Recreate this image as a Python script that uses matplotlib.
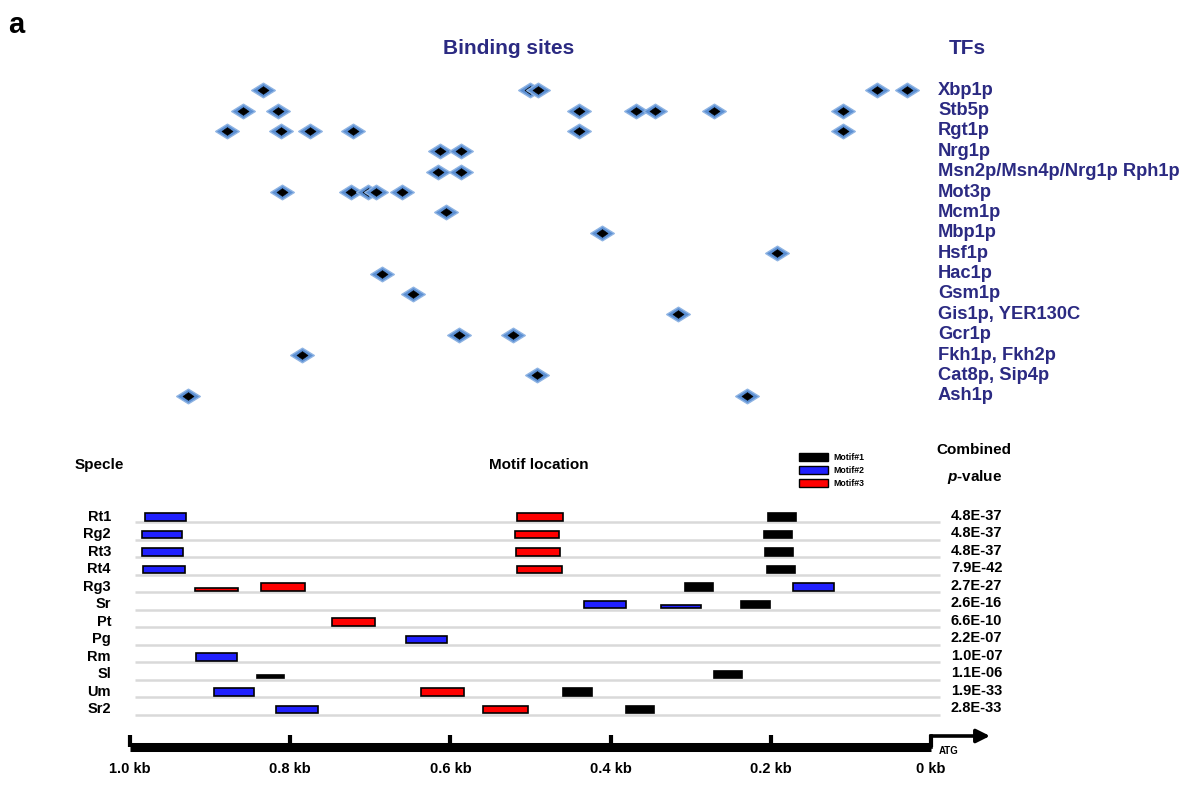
import matplotlib
matplotlib.use("Agg")
import matplotlib.pyplot as plt
from matplotlib.path import Path
from matplotlib.patches import Patch
from matplotlib.transforms import blended_transform_factory

plt.rcParams['font.family'] = ['Liberation Sans', 'DejaVu Sans']
plt.rcParams['mathtext.fontset'] = 'custom'
plt.rcParams['mathtext.it'] = 'Liberation Sans:bold:italic'
plt.rcParams['mathtext.rm'] = 'Liberation Sans:bold'

# ---------------- data ----------------
tf_names = ['Xbp1p', 'Stb5p', 'Rgt1p', 'Nrg1p', 'Msn2p/Msn4p/Nrg1p Rph1p', 'Mot3p',
            'Mcm1p', 'Mbp1p', 'Hsf1p', 'Hac1p', 'Gsm1p', 'Gis1p, YER130C', 'Gcr1p',
            'Fkh1p, Fkh2p', 'Cat8p, Sip4p', 'Ash1p']
# binding-site positions (kb upstream of ATG), one list per TF
binding_sites_kb = [
    [0.834, 0.501, 0.491, 0.067, 0.030],
    [0.859, 0.815, 0.439, 0.368, 0.345, 0.271, 0.110],
    [0.879, 0.811, 0.775, 0.722, 0.439, 0.110],
    [0.613, 0.587],
    [0.615, 0.587],
    [0.810, 0.724, 0.703, 0.693, 0.660],
    [0.605],
    [0.411],
    [0.192],
    [0.685],
    [0.647],
    [0.316],
    [0.589, 0.522],
    [0.785],
    [0.492],
    [0.928, 0.230],
]

species = ['Rt1', 'Rg2', 'Rt3', 'Rt4', 'Rg3', 'Sr', 'Pt', 'Pg', 'Rm', 'Sl', 'Um', 'Sr2']
p_values = ['4.8E-37', '4.8E-37', '4.8E-37', '7.9E-42', '2.7E-27', '2.6E-16',
            '6.6E-10', '2.2E-07', '1.0E-07', '1.1E-06', '1.9E-33', '2.8E-33']

motif_labels = ['Motif#1', 'Motif#2', 'Motif#3']
motif_species = [0, 0, 0, 1, 1, 1, 2, 2, 2, 3, 3, 3,
                 4, 4, 4, 4, 5, 5, 5, 6, 7, 8, 9, 9, 10, 10, 10, 11, 11, 11]
motif_id = [2, 3, 1, 2, 3, 1, 2, 3, 1, 2, 3, 1,
            3, 3, 1, 2, 2, 2, 1, 3, 2, 2, 1, 1, 2, 3, 1, 2, 3, 1]
motif_start_kb = [0.981, 0.517, 0.204, 0.985, 0.519, 0.208, 0.985, 0.518, 0.207, 0.984, 0.517, 0.205,
                  0.919, 0.836, 0.307, 0.172, 0.433, 0.337, 0.237, 0.748, 0.655, 0.918, 0.841, 0.271,
                  0.895, 0.637, 0.459, 0.818, 0.559, 0.381]
motif_end_kb = [0.930, 0.459, 0.169, 0.935, 0.464, 0.174, 0.934, 0.463, 0.172, 0.931, 0.461, 0.170,
                0.865, 0.782, 0.272, 0.121, 0.381, 0.287, 0.201, 0.694, 0.604, 0.866, 0.808, 0.236,
                0.845, 0.583, 0.423, 0.765, 0.503, 0.346]
motif_weak = [0, 0, 0, 0, 0, 0, 0, 0, 0, 0, 0, 0,
              1, 0, 0, 0, 0, 1, 0, 0, 0, 0, 1, 0, 0, 0, 0, 0, 0, 0]

kb_ticks = [1.0, 0.8, 0.6, 0.4, 0.2, 0.0]
kb_tick_labels = ['1.0 kb', '0.8 kb', '0.6 kb', '0.4 kb', '0.2 kb', '0 kb']

# ---------------- styling ----------------
W, H = 1192, 785
NAVY = '#2b2a82'
DIAMOND = '#5b8fd3'
MOTIF_COLORS = {1: '#000000', 2: '#2020ff', 3: '#ff0000'}


def fx(px):
    return px / W


def fy(py):
    return 1 - py / H


fig = plt.figure(figsize=(W / 100, H / 100), dpi=100)

X0, X1 = 130, 931  # pixel positions of 1.0 kb and 0 kb

# ---------- top panel: binding sites ----------
top_y0, top_y1 = 80, 406
axt = fig.add_axes([fx(X0), fy(top_y1), fx(X1) - fx(X0), (top_y1 - top_y0) / H])
axt.set_xlim(1.0, 0.0)
axt.set_ylim(len(tf_names) - 0.5, -0.5)
axt.axis('off')

diamond = Path([(-1, 0), (0, 0.62), (1, 0), (0, -0.62), (-1, 0)],
               [Path.MOVETO, Path.LINETO, Path.LINETO, Path.LINETO, Path.CLOSEPOLY])
inner = Path([(-1, 0), (0, 0.7), (1, 0), (0, -0.7), (-1, 0)],
             [Path.MOVETO, Path.LINETO, Path.LINETO, Path.LINETO, Path.CLOSEPOLY])
for i, sites in enumerate(binding_sites_kb):
    for s in sites:
        axt.plot([s], [i], linestyle='none', marker=diamond, ms=17,
                 mfc=DIAMOND, mec='#8fb4e3', mew=1.0, clip_on=False)
        axt.plot([s], [i], linestyle='none', marker=inner, ms=8,
                 mfc='black', mec='black', mew=0.4, clip_on=False)

trt = blended_transform_factory(fig.transFigure, axt.transData)
for i, name in enumerate(tf_names):
    axt.text(fx(938), i, name, transform=trt, ha='left', va='center',
             fontsize=13.2, fontweight='bold', color=NAVY)

fig.text(fx(8), fy(25), 'a', fontsize=21, fontweight='bold', ha='left', va='center')
fig.text(fx(509), fy(49), 'Binding sites', fontsize=15, fontweight='bold',
         color=NAVY, ha='center', va='center')
fig.text(fx(967), fy(49), 'TFs', fontsize=15, fontweight='bold',
         color=NAVY, ha='center', va='center')

# ---------- bottom panel: motif locations ----------
row0_px, row_step = 522, 17.5
bot_y0, bot_y1 = 500, 747
axb = fig.add_axes([fx(X0), fy(bot_y1), fx(X1) - fx(X0), (bot_y1 - bot_y0) / H])
axb.set_xlim(1.0, 0.0)
axb.set_ylim((bot_y1 - row0_px) / row_step, (bot_y0 - row0_px) / row_step)

for i in range(len(species)):
    axb.hlines(i, 0.994, -0.011, color='#d9d9d9', lw=1.8, clip_on=False, zorder=1)

for sp, mid, st, en, wk in zip(motif_species, motif_id, motif_start_kb, motif_end_kb, motif_weak):
    h = 0.17 if wk else 0.44
    axb.barh(sp - 0.06 - h / 2, st - en, left=en, height=h,
             color=MOTIF_COLORS[mid], edgecolor='black', linewidth=1.2, zorder=3)

trb = blended_transform_factory(fig.transFigure, axb.transData)
for i, (sp, pv) in enumerate(zip(species, p_values)):
    axb.text(fx(111), i - 0.3, sp, transform=trb, ha='right', va='center',
             fontsize=10.5, fontweight='bold')
    axb.text(fx(951), i - 0.36, pv, transform=trb, ha='left', va='center',
             fontsize=10.5, fontweight='bold')

# scale bar axis
for side in ['top', 'left', 'right']:
    axb.spines[side].set_visible(False)
axb.spines['bottom'].set_linewidth(6.5)
axb.spines['bottom'].set_capstyle('butt')
axb.set_yticks([])
axb.set_xticks(kb_ticks)
axb.set_xticklabels(kb_tick_labels, fontsize=10.5, fontweight='bold')
axb.tick_params(axis='x', direction='in', length=9, width=3, pad=11)

# ATG arrow
y_arrow = (736 - row0_px) / row_step
y_spine = (bot_y1 - row0_px) / row_step
axb.plot([0.0, 0.0], [y_spine, y_arrow], color='black', lw=2.6, clip_on=False,
         solid_capstyle='projecting')
axb.annotate('', xy=(1 - (990 - X0) / (X1 - X0), y_arrow), xytext=(0.0, y_arrow),
             xycoords='data', arrowprops=dict(arrowstyle='-|>', lw=2.6, color='black',
                                              mutation_scale=20, shrinkA=0, shrinkB=0),
             annotation_clip=False)
axb.text(1 - (939 - X0) / (X1 - X0), (751 - row0_px) / row_step, 'ATG', fontsize=7,
         fontweight='bold', ha='left', va='center')

# headers
fig.text(fx(75), fy(465), 'Specle', fontsize=11, fontweight='bold', ha='left', va='center')
fig.text(fx(539), fy(465), 'Motif location', fontsize=11, fontweight='bold',
         ha='center', va='center')
fig.text(fx(974), fy(450), 'Combined', fontsize=11, fontweight='bold', ha='center', va='center')
fig.text(fx(975), fy(477), r'$\it{p}$-value', fontsize=11, fontweight='bold',
         ha='center', va='center')

# legend
handles = [Patch(facecolor=MOTIF_COLORS[k], edgecolor='black', linewidth=1) for k in (1, 2, 3)]
fig.legend(handles, motif_labels, loc='upper left', bbox_to_anchor=(fx(793), fy(447)),
           frameon=False, handlelength=3.3, handleheight=1.0,
           labelspacing=0.45, handletextpad=0.6, borderpad=0.2,
           prop={'weight': 'bold', 'size': 6.3})

fig.savefig('out.png', dpi=100)
